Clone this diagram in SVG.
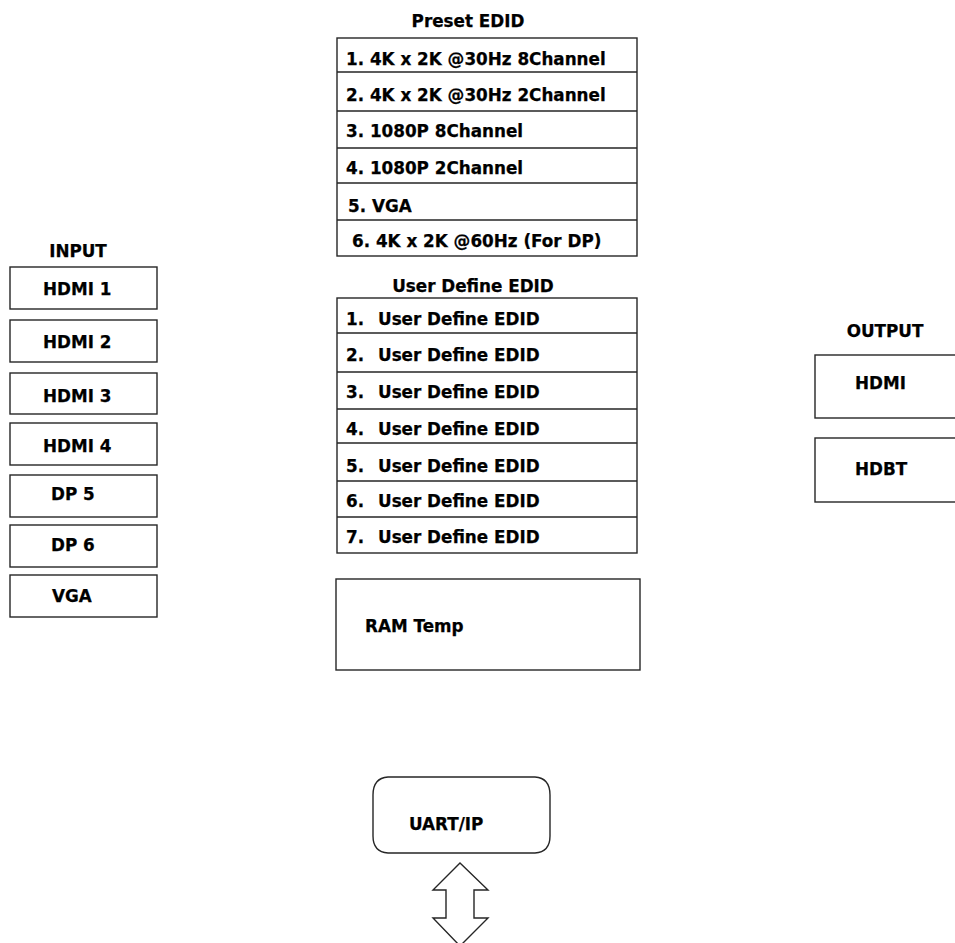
<svg xmlns="http://www.w3.org/2000/svg" width="955" height="943" viewBox="0 0 955 943">
<style>
.b{fill:#fff;stroke:#262626;stroke-width:1.4}
.l{stroke:#262626;stroke-width:1.4;fill:none}
text{font-family:"DejaVu Sans","Liberation Sans",sans-serif;font-weight:bold;font-size:16.8px;fill:#000;stroke:#000;stroke-width:0.25}
.c{text-anchor:middle}
</style>
<rect width="955" height="943" fill="#fff"/>
<g id="preset-edid">
<text x="468" y="27" class="c">Preset EDID</text>
<rect class="b" x="337" y="38" width="300" height="218"/>
<path class="l" d="M337 72H637M337 111H637M337 148H637M337 183H637M337 220H637"/>
<text x="346" y="65">1. 4K x 2K @30Hz 8Channel</text>
<text x="346" y="101">2. 4K x 2K @30Hz 2Channel</text>
<text x="346" y="137">3. 1080P 8Channel</text>
<text x="346" y="174">4. 1080P 2Channel</text>
<text x="348" y="212">5. VGA</text>
<text x="352" y="247">6. 4K x 2K @60Hz (For DP)</text>
</g>
<g id="user-define-edid">
<text x="473" y="292" class="c">User Define EDID</text>
<rect class="b" x="337" y="298" width="300" height="255"/>
<path class="l" d="M337 333H637M337 372H637M337 409H637M337 443H637M337 481H637M337 517H637"/>
<text x="346" y="325">1.</text><text x="378" y="325">User Define EDID</text>
<text x="346" y="361">2.</text><text x="378" y="361">User Define EDID</text>
<text x="346" y="398">3.</text><text x="378" y="398">User Define EDID</text>
<text x="346" y="435">4.</text><text x="378" y="435">User Define EDID</text>
<text x="346" y="472">5.</text><text x="378" y="472">User Define EDID</text>
<text x="346" y="507">6.</text><text x="378" y="507">User Define EDID</text>
<text x="346" y="543">7.</text><text x="378" y="543">User Define EDID</text>
</g>
<g id="ram-temp">
<rect class="b" x="336" y="579" width="304" height="91"/>
<text x="365" y="632">RAM Temp</text>
</g>
<g id="input">
<text x="78" y="257" class="c">INPUT</text>
<g id="in-hdmi1"><rect class="b" x="10" y="267" width="147" height="42"/><text x="43" y="295">HDMI 1</text></g>
<g id="in-hdmi2"><rect class="b" x="10" y="320" width="147" height="42"/><text x="43" y="348">HDMI 2</text></g>
<g id="in-hdmi3"><rect class="b" x="10" y="373" width="147" height="41"/><text x="43" y="402">HDMI 3</text></g>
<g id="in-hdmi4"><rect class="b" x="10" y="423" width="147" height="42"/><text x="43" y="452">HDMI 4</text></g>
<g id="in-dp5"><rect class="b" x="10" y="475" width="147" height="42"/><text x="51" y="500">DP 5</text></g>
<g id="in-dp6"><rect class="b" x="10" y="525" width="147" height="42"/><text x="51" y="551">DP 6</text></g>
<g id="in-vga"><rect class="b" x="10" y="575" width="147" height="42"/><text x="52" y="602">VGA</text></g>
</g>
<g id="output">
<text x="885" y="337" class="c">OUTPUT</text>
<g id="out-hdmi"><rect class="b" x="815" y="355" width="150" height="63"/><text x="855" y="389">HDMI</text></g>
<g id="out-hdbt"><rect class="b" x="815" y="438" width="150" height="64"/><text x="855" y="475">HDBT</text></g>
</g>
<g id="uart-ip">
<path class="b" d="M388 777H535Q550 778 550 795V836Q550 852 535 853H388Q373 852 373 836V795Q373 778 388 777Z"/>
<text x="409" y="830">UART/IP</text>
</g>
<g id="connectors">
<path class="b" d="M460 863L488 890H474V918H488L460 946L433 918H446V890H433Z"/>
</g>
</svg>
